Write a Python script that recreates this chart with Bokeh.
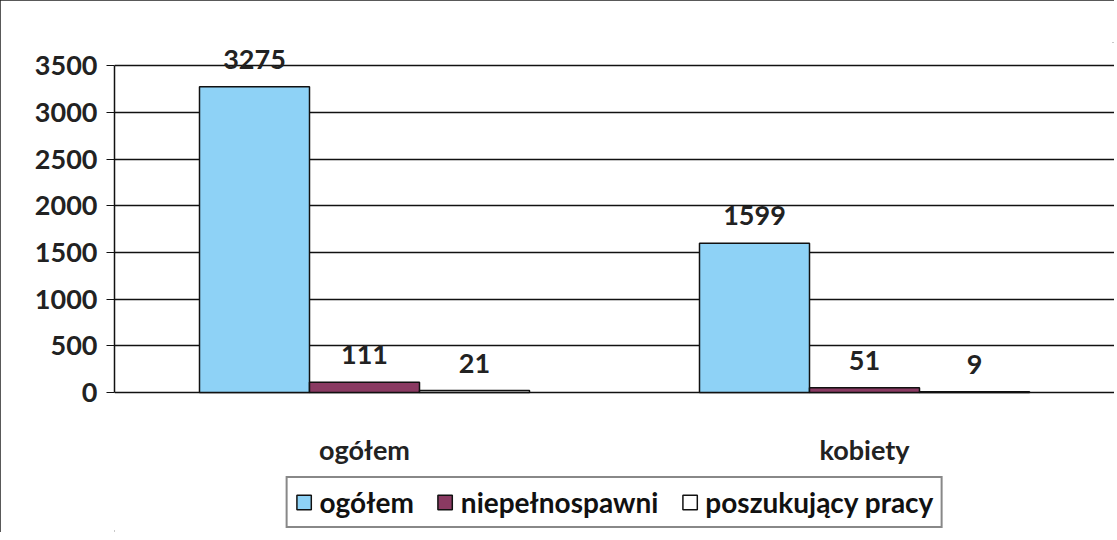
from bokeh.plotting import figure
from bokeh.models import ColumnDataSource, LabelSet, Legend, LegendItem, FactorRange
from bokeh.core.properties import value
from bokeh.transform import dodge
from bokeh.embed import file_html
from bokeh.resources import INLINE

categories = ["ogółem", "kobiety"]
series_names = ["ogółem", "niepełnospawni", "poszukujący pracy"]
ogolem = [3275, 1599]
niepelnosprawni = [111, 51]
poszukujacy = [21, 9]
y_ticks = [0, 500, 1000, 1500, 2000, 2500, 3000, 3500]

colors = ["#8ED2F6", "#8A3A62", "#FFFFFF"]
FONT = "Lato"
FS = "27px"

src = ColumnDataSource(dict(cat=categories, a=ogolem, b=niepelnosprawni, c=poszukujacy,
                            base=[0, 0]))

p = figure(x_range=FactorRange(*categories), y_range=(-1500, 3750),
           frame_width=1000, frame_height=490, output_backend="svg", toolbar_location=None,
           min_border_left=114, min_border_right=0, min_border_top=42, min_border_bottom=0)
p.outline_line_color = None
p.background_fill_color = "white"
p.xaxis.visible = False
p.styles = {"outline": "2px solid #222222", "outline-offset": "-2px"}

width = 0.22
offs = [-0.22, 0.0, 0.22]
renderers = []
for col, off, color in zip(["a", "b", "c"], offs, colors):
    r = p.vbar(x=dodge("cat", off, range=p.x_range), top=col, width=width, source=src,
               fill_color=color, line_color="#111111", line_width=1.5)
    renderers.append(r)
    lbl = LabelSet(x=dodge("cat", off, range=p.x_range), y=col, text=col, source=src,
                   text_align="center", text_baseline="bottom", y_offset=18,
                   text_font=value(FONT), text_font_style="bold", text_font_size=FS,
                   text_color="#222222")
    p.add_layout(lbl)

# category labels under the baseline
cat_lbl = LabelSet(x="cat", y="base", text="cat", source=src,
                   text_align="center", text_baseline="middle", y_offset=-57,
                   text_font=value(FONT), text_font_style="bold", text_font_size=FS,
                   text_color="#222222")
p.add_layout(cat_lbl)

p.yaxis.ticker = y_ticks
p.yaxis.bounds = (0, 3500)
p.ygrid.ticker = y_ticks
p.ygrid.grid_line_color = "#111111"
p.ygrid.grid_line_width = 1.5
p.xgrid.grid_line_color = None

p.yaxis.axis_line_color = "#111111"
p.yaxis.axis_line_width = 1.5
p.yaxis.major_tick_out = 8
p.yaxis.major_tick_in = 0
p.yaxis.major_tick_line_color = "#111111"
p.yaxis.minor_tick_line_color = None
p.yaxis.major_label_text_font = FONT
p.yaxis.major_label_text_font_style = "bold"
p.yaxis.major_label_text_font_size = FS
p.yaxis.major_label_text_color = "#222222"
p.yaxis.major_label_standoff = 9

legend = Legend(items=[LegendItem(label=n, renderers=[r]) for n, r in zip(series_names, renderers)],
                orientation="horizontal", location="bottom_center",
                label_text_font=FONT, label_text_font_style="bold", label_text_font_size="28px",
                label_text_color="#111111", border_line_color="#111111", border_line_width=2,
                background_fill_color="white", background_fill_alpha=1.0,
                glyph_width=18, glyph_height=18, spacing=22, padding=7, margin=4,
                label_standoff=7)
p.add_layout(legend, "center")

open("out.html", "w").write(file_html(p, INLINE))
